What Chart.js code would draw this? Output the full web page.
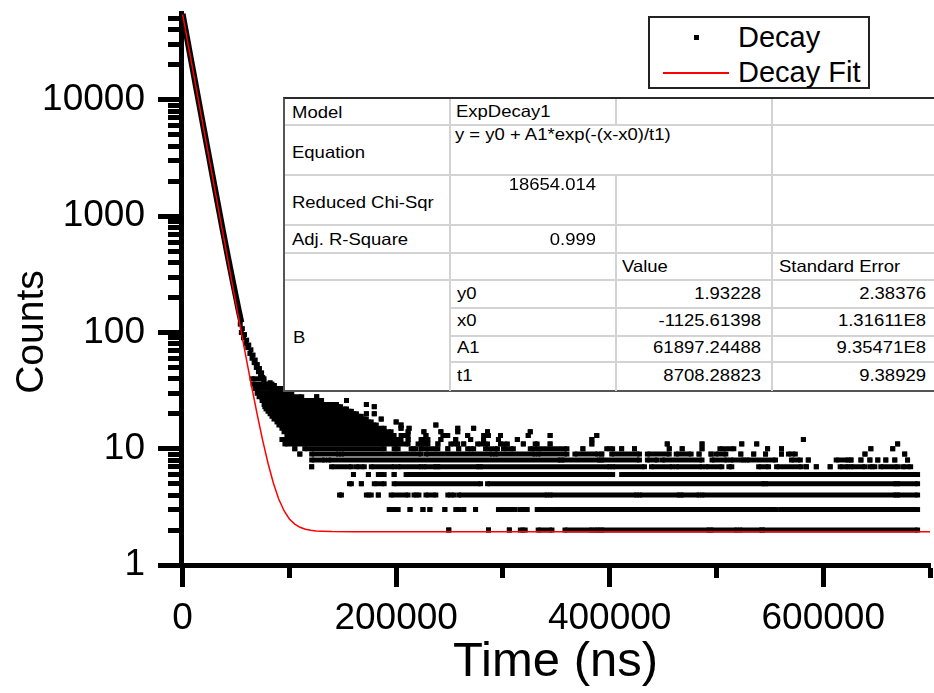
<!DOCTYPE html>
<html>
<head>
<meta charset="utf-8">
<script src="https://cdn.jsdelivr.net/npm/chart.js@4.4.1/dist/chart.umd.min.js"></script>
<style>
  html, body { margin: 0; padding: 0; background: #fff; }
  body { width: 934px; height: 693px; position: relative; overflow: hidden;
         font-family: 'Liberation Sans', Arial, sans-serif; color: #000; }
  #chart { position: absolute; left: 0; top: 0; }
  #ytitle { position: absolute; left: -32px; top: 312px; width: 124px; height: 40px;
            font-size: 39px; line-height: 40px; text-align: center; white-space: nowrap;
            transform: rotate(-90deg); }
  #fit { position: absolute; left: 283px; top: 97px; width: 660px; height: 295px;
         box-sizing: border-box; background: #fff;
         border-left: 2px solid #555; border-top: 2px solid #2a2a2a; border-bottom: 2px solid #555; }
  .hl, .vl { position: absolute; background: #d3d3d3; }
  .hl { height: 2px; }
  .vl { width: 2px; }
  .t { position: absolute; font-size: 16.5px; line-height: 18px; white-space: nowrap;
       transform: scaleX(1.12); transform-origin: left center; }
  .r { text-align: right; transform-origin: right center; }
  #legend { position: absolute; left: 648px; top: 16px; width: 222px; height: 73px;
            box-sizing: border-box; border: 2px solid #222; background: #fff; }
  .lt { position: absolute; font-size: 29px; line-height: 29px; white-space: nowrap; }
</style>
</head>
<body>
<canvas id="chart" width="934" height="693"></canvas>
<div id="ytitle">Counts</div>

<div id="fit"></div>

<div id="legend">
  <div style="position:absolute; left:44px; top:17px; width:5px; height:5px; background:#000;"></div>
  <div class="lt" style="left:88px; top:5px;">Decay</div>
  <div style="position:absolute; left:13px; top:54px; width:66px; height:1.5px; background:#f00;"></div>
  <div class="lt" style="left:88px; top:40px;">Decay Fit</div>
</div>

<script>
// ---- data (time in µs on these arrays, plotted as ns) ----

// steep part of the decay
const decayT = [0, 2.5, 5, 7.5, 10, 12.5, 15, 17.5, 20, 22.5, 25, 27.5, 30, 32.5,
                35, 37.5, 40, 42.5, 45, 47.5, 50, 52.5, 55];
const decayCounts = [55000, 41200, 31000, 23200, 17500, 13100, 9850, 7400, 5560, 4180,
                     3150, 2370, 1790, 1350, 1020, 770, 585, 445, 340, 262, 202, 156, 122];

// noisy end of the decay
const tailT = [54, 55, 56, 57, 58, 59, 60, 61, 62, 63, 64, 65, 66, 67, 68, 69, 70, 71,
               72, 73, 74, 75, 76, 78, 80, 82, 84, 86, 88, 90];
const tailCounts = [118, 100, 108, 90, 96, 80, 86, 74, 78, 66, 71, 60, 64, 55, 58, 50,
                    53, 46, 49, 43, 45, 41, 38, 36, 34, 37, 32, 35, 31, 30];

// background counts: runs of adjacent channels [start, end] (µs) per count level
const level2 = [[249.3], [286.5], [306.0], [316.3, 320.9], [333.0, 346.0], [358.1, 383.3],
  [386.0, 390.7], [392.6, 493.0], [494.9, 519.1], [521.9, 542.3], [543.2, 688.4]];
const level3 = [[193.5, 201.9], [213.0], [225.1], [231.6], [245.6], [255.8, 258.6], [263.3],
  [274.4], [295.8, 311.6], [316.3, 322.8], [332.1, 346.0], [348.8, 415.8], [416.7, 555.3],
  [560.0, 688.4]];
const level4 = [[147.0, 148.8], [172.1, 176.7], [183.3], [195.3, 211.2], [216.7, 221.4],
  [227.9, 237.2], [248.4, 254.0], [258.6, 341.4], [344.2, 425.1], [427.9, 465.1],
  [466.9, 483.7], [486.5, 667.9], [669.7, 688.4]];
const level5 = [[156.3, 158.1], [167.4], [179.5, 188.8], [198.1, 279.1], [285.6, 544.2],
  [546.0, 667.9], [669.7, 688.4]];
const level6 = [[160.0], [174.0], [183.3, 188.8], [198.1], [209.3, 334.9], [336.7, 402.8],
  [411.2, 562.8], [564.6, 688.4]];
const level7 = [[120.9], [139.5, 158.1], [162.8, 170.2], [176.7, 198.1], [201.9, 223.3],
  [226.0, 237.2], [239.1, 277.2], [279.1, 400.0], [402.8, 432.6], [439.1, 458.6],
  [462.3, 486.5], [490.2, 505.1], [511.6, 514.4], [539.5, 548.8], [556.3, 579.5], [584.2],
  [593.5], [606.5], [615.8, 623.2], [626.0, 639.1], [643.7, 648.4], [653.9, 669.7],
  [674.4, 681.9]];
const level8 = [[120.9, 133.0], [136.7, 353.5], [355.3, 390.7], [392.6, 427.9],
  [435.3, 444.6], [449.3, 486.5], [495.8, 509.8], [513.5, 525.6], [528.4, 555.3],
  [570.2, 578.6], [586.0], [612.1, 623.2], [626.0], [635.3], [643.7], [651.1], [658.6],
  [667.0], [679.0]];
const level9 = [[109.8], [120.9, 146.0], [148.8, 223.3], [227.9, 290.0], [293.0, 330.0],
  [333.0, 360.0], [367.4, 388.8], [392.6], [401.9, 427.9], [435.3, 455.8], [462.3, 476.3],
  [483.7], [494.9], [499.5, 508.8], [522.8], [534.9], [546.0], [560.9], [567.4, 573.9],
  [639.1], [676.3]];
const level10 = [[105.1], [114.4, 188.8], [198.1, 201.9], [214.0, 218.6], [223.3, 239.1],
  [248.4], [258.6], [267.0, 272.6], [283.7, 294.9], [300.5, 309.8], [325.6, 360.0], [374.9],
  [397.2, 402.8], [411.2], [423.2], [455.8], [467.9], [486.5], [503.2, 516.3], [547.9],
  [560.9], [644.6], [665.1]];
const level11 = [[95.8, 211.2], [220.5, 229.8], [239.1], [251.2, 257.7], [263.3],
  [276.3, 285.6], [297.7, 304.2], [319.1], [330.2, 332.1], [344.2], [383.3], [453.9],
  [486.5], [523.7], [537.7], [669.7]];
const level12 = [[93.0, 204.6], [211.2], [223.3, 229.8], [241.9], [255.8], [269.8], [281.9],
  [295.8], [313.5], [383.3], [581.4]];
const level13 = [[97.7, 198.1], [204.6, 211.2], [227.9], [243.7, 248.4], [267.0],
  [281.9, 286.5], [297.7], [323.7], [344.2], [387.9]];
const level14 = [[95.0, 195.3], [211.2], [226.0], [241.9], [257.7], [285.6], [325.6]];
const level15 = [[93.0, 188.8], [204.6], [212.1], [257.7], [272.6]];
const level16 = [[90.2, 181.4], [204.6], [237.2]];
const level17 = [[88.4, 176.7], [200.0]];
const level18 = [[85.6, 172.1], [186.0]];
const level19 = [[83.7, 167.4]];
const level20 = [[81.9, 162.8], [172.1], [179.5]];
const level21 = [[80.0, 158.1]];
const level22 = [[78.1, 153.5]];
const level23 = [[77.0, 148.0], [179.5]];
const level24 = [[76.3, 144.2], [172.1]];
const level26 = [[74.4, 130.2], [153.5]];
const level28 = [[71.6, 111.6], [125.6]];
const level30 = [[69.8, 102.3]];
const level33 = [[67.9, 93.0]];
const level36 = [[66.0, 83.7]];
const level40 = [[65.1, 76.3]];

// ExpDecay1 fit curve
const fitT = [0, 5, 10, 15, 20, 25, 30, 35, 40, 45, 50, 55, 60, 65, 70, 75, 80, 85, 90,
              95, 100, 105, 110, 115, 120, 125, 130, 140, 160, 200, 700];
const fitCounts = [54394, 30636, 17252, 9717, 5472, 3083, 1737, 979.4, 552.3, 311.8,
                   176.5, 100.2, 57.3, 33.1, 19.5, 11.8, 7.50, 5.07, 3.70, 2.93, 2.49,
                   2.25, 2.11, 2.03, 1.99, 1.96, 1.95, 1.938, 1.933, 1.932, 1.932];

// axes
const xTicks = [0, 100000, 200000, 300000, 400000, 500000, 600000, 700000];
const xTickLabels = [0, 200000, 400000, 600000];
const yTickLabels = [1, 10, 100, 1000, 10000];

// fit report
const fitRows = [
  ['Model', 'ExpDecay1'],
  ['Equation', 'y = y0 + A1*exp(-(x-x0)/t1)'],
  ['Reduced Chi-Sqr', '18654.014'],
  ['Adj. R-Square', '0.999']
];
const paramNames = ['y0', 'x0', 'A1', 't1'];
const paramValues = ['1.93228', '-1125.61398', '61897.24488', '8708.28823'];
const paramErrors = ['2.38376', '1.31611E8', '9.35471E8', '9.38929'];

// ---- build ----
const levelRuns = [
  [2, level2], [3, level3], [4, level4], [5, level5], [6, level6], [7, level7],
  [8, level8], [9, level9], [10, level10], [11, level11], [12, level12], [13, level13],
  [14, level14], [15, level15], [16, level16], [17, level17], [18, level18], [19, level19],
  [20, level20], [21, level21], [22, level22], [23, level23], [24, level24], [26, level26],
  [28, level28], [30, level30], [33, level33], [36, level36], [40, level40]
];

function runPoints(level, runs) {
  const pts = [];
  runs.forEach(r => {
    const a = r[0] * 1000;
    const b = (r.length > 1 ? r[1] : r[0]) * 1000;
    pts.push({ x: a, y: level }, { x: b, y: level }, { x: b, y: null });
  });
  return pts;
}

const yTicks = [];
yTickLabels.forEach(d => {
  for (let m = 1; m <= 9; m++) {
    if (d * m <= 50000) yTicks.push(d * m);
  }
});

const marker = {
  pointStyle: 'rect',
  pointRadius: 3.5,
  pointHoverRadius: 3.5,
  pointBackgroundColor: '#000',
  pointBorderWidth: 0
};

const datasets = [
  {
    label: 'Decay Fit',
    data: fitT.map((t, i) => ({ x: t * 1000, y: fitCounts[i] })),
    showLine: true,
    borderColor: '#ff0000',
    borderWidth: 1.5,
    pointRadius: 0,
    order: 0
  },
  {
    label: 'Decay',
    data: decayT.map((t, i) => ({ x: t * 1000, y: decayCounts[i] })),
    showLine: true,
    borderColor: '#000',
    borderWidth: 6,
    borderJoinStyle: 'round',
    pointRadius: 0,
    order: 1
  },
  {
    label: 'Decay',
    data: tailT.map((t, i) => ({ x: t * 1000, y: tailCounts[i] })),
    showLine: false,
    ...marker,
    order: 1
  }
];

levelRuns.forEach(([lvl, runs]) => {
  datasets.push({
    label: 'Decay',
    data: runPoints(lvl, runs),
    showLine: true,
    spanGaps: false,
    borderColor: '#000',
    borderWidth: 5,
    borderCapStyle: 'butt',
    ...marker,
    order: 1
  });
});

const tickFont = { family: "'Liberation Sans', Arial, sans-serif", size: 37 };

new Chart(document.getElementById('chart'), {
  type: 'scatter',
  data: { datasets },
  options: {
    responsive: false,
    animation: false,
    devicePixelRatio: 1,
    layout: { padding: { top: 13, right: 4, left: 0, bottom: 0 } },
    plugins: { legend: { display: false }, tooltip: { enabled: false } },
    scales: {
      x: {
        type: 'linear',
        min: -1500,
        max: 700000,
        afterBuildTicks: s => { s.ticks = xTicks.map(v => ({ value: v })); },
        afterFit: s => { s.height = 128; s.paddingLeft = 0; s.paddingRight = 0; },
        ticks: {
          autoSkip: false,
          maxRotation: 0,
          padding: 10,
          color: '#000',
          font: tickFont,
          callback: v => xTickLabels.includes(v) ? String(v) : ''
        },
        grid: {
          drawOnChartArea: false,
          tickLength: 22,
          tickWidth: 5,
          tickColor: '#000',
          tickBorderDash: c => (c.tick && xTickLabels.includes(c.tick.value)) ? [] : [10, 60]
        },
        border: { width: 5, color: '#000' },
        title: {
          display: true,
          text: 'Time (ns)',
          color: '#000',
          font: { family: "'Liberation Sans', Arial, sans-serif", size: 49, lineHeight: 1 },
          padding: { top: 0, bottom: 6 }
        }
      },
      y: {
        type: 'logarithmic',
        min: 1,
        max: 56000,
        afterBuildTicks: s => {
          s.ticks = yTicks.map(v => ({ value: v, major: yTickLabels.includes(v) }));
        },
        afterFit: s => { s.width = 181; s.paddingTop = 0; s.paddingBottom = 0; },
        ticks: {
          autoSkip: false,
          padding: 13,
          color: '#000',
          font: tickFont,
          callback: v => yTickLabels.includes(v) ? String(v) : ''
        },
        grid: {
          drawOnChartArea: false,
          tickLength: 23,
          tickWidth: 5,
          tickColor: '#000',
          tickBorderDash: c => (c.tick && yTickLabels.includes(c.tick.value)) ? [] : [0, 10, 30]
        },
        border: { width: 5, color: '#000' }
      }
    }
  }
});

// ---- fit report table ----
const box = document.getElementById('fit');
const L = 283, T = 97;   // page offset of the box (its border is 2px)

function line(cls, x, y, len) {
  const d = document.createElement('div');
  d.className = cls;
  d.style.left = (x - L - 2) + 'px';
  d.style.top = (y - T - 2) + 'px';
  if (cls === 'hl') d.style.width = len + 'px'; else d.style.height = len + 'px';
  box.appendChild(d);
}
function text(str, x, y, right) {
  const d = document.createElement('div');
  d.className = 't' + (right ? ' r' : '');
  d.textContent = str;
  d.style.top = (y - T - 2) + 'px';
  if (right) { d.style.left = (x - 300 - L - 2) + 'px'; d.style.width = '300px'; }
  else d.style.left = (x - L - 2) + 'px';
  box.appendChild(d);
}

[124, 174, 224, 252, 279].forEach(y => line('hl', 285, y, 700));
[307, 335, 361].forEach(y => line('hl', 449, y, 700));
line('vl', 449, 99, 292);
line('vl', 615, 99, 25);
line('vl', 615, 176, 215);
line('vl', 771, 99, 292);

const rowTops = [103, 143, 193, 230];
fitRows.forEach((r, i) => text(r[0], 292, rowTops[i]));
text(fitRows[0][1], 456, 102);
text(fitRows[1][1], 455, 125);
text(fitRows[2][1], 596, 175, true);
text(fitRows[3][1], 596, 230, true);
text('Value', 622, 257);
text('Standard Error', 779, 257);
text('B', 293, 328);
const paramTops = [284, 311, 338, 366];
paramNames.forEach((n, i) => {
  text(n, 457, paramTops[i]);
  text(paramValues[i], 761, paramTops[i], true);
  text(paramErrors[i], 926, paramTops[i], true);
});
</script>
</body>
</html>
